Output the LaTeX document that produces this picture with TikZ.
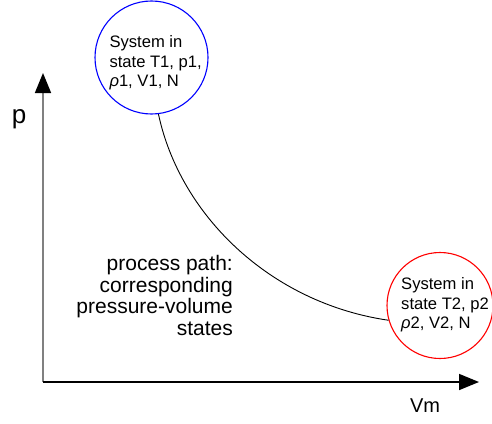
\documentclass[tikz,border=0pt]{standalone}
\usepackage{fontspec}
\setmainfont{Liberation Sans}
\usetikzlibrary{arrows.meta}
\begin{document}
\begin{tikzpicture}[x=1pt,y=-1pt,
  statecirc/.style={circle,draw,line width=1.1pt,inner sep=0pt,minimum size=#1},
  statetext/.style={anchor=north west,inner sep=0pt,align=left,font=\fontsize{16.6}{19.5}\selectfont},
  axis/.style={line width=1.6pt,-{Triangle[length=20pt,width=16pt,color=black]}},
  lbl/.style={inner sep=0pt}]
\useasboundingbox (0,0) rectangle (492,423);
% axes
\coordinate (o) at (43,382);
\coordinate (ytip) at (43,73);
\coordinate (xtip) at (479,382);
\draw[axis,draw=black!50] (o) -- (ytip);
\draw[axis,black] (o) -- (xtip);
\node[lbl,font=\fontsize{26}{30}\selectfont,anchor=base] (plbl) at (19,123) {p};
\node[lbl,font=\fontsize{20}{24}\selectfont,anchor=base] (vlbl) at (425,412) {Vm};
% states
\node[statecirc=113pt,draw=blue] (c1) at (151.5,57.5) {};
\node[statecirc=106pt,draw=red] (c2) at (440,305.5) {};
\node[statetext] (t1) at (109.3,35.7) {System in\\state T1, p1,\\{\itshape ρ}1, V1, N};
\node[statetext] (t2) at (401,277.5) {System in\\state T2, p2\\{\itshape ρ}2, V2, N};
% process path
\draw[line width=0.9pt] (c1.-83) .. controls (180,215) and (270,303) .. (c2.196);
\node[lbl,anchor=north east,align=right,font=\fontsize{21}{21.5}\selectfont] (pp) at (233,255.5) {process path:\\corresponding\\pressure-volume\\states};
\end{tikzpicture}
\end{document}
